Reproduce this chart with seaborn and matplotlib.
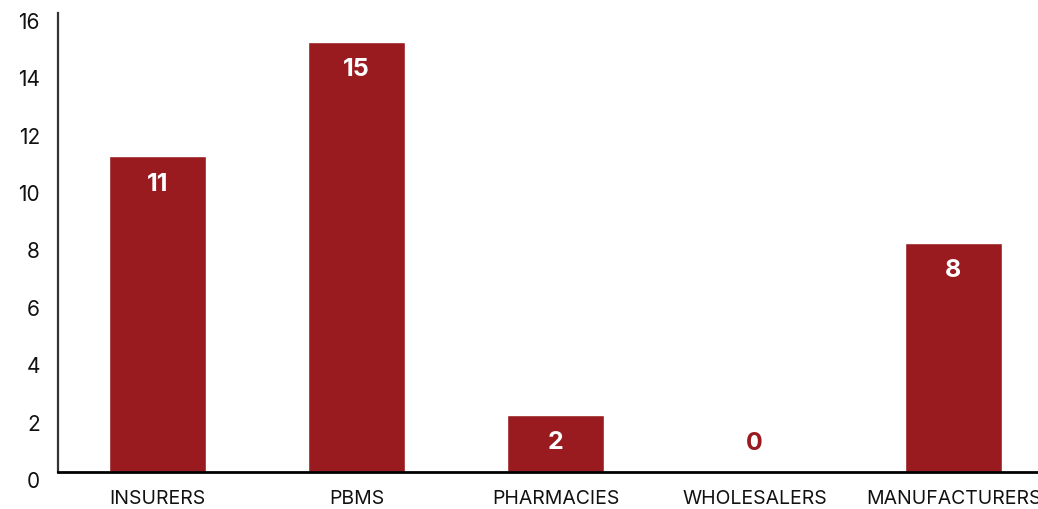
import matplotlib
matplotlib.use("Agg")
import matplotlib.pyplot as plt
import matplotlib.transforms as mtransforms
import seaborn as sns
import pandas as pd

categories = ["INSURERS", "PBMS", "PHARMACIES", "WHOLESALERS", "MANUFACTURERS"]
counts = [11, 15, 2, 0, 8]
y_ticks = [0, 2, 4, 6, 8, 10, 12, 14, 16]

BAR_COLOR = "#991b1f"

sns.set_theme(style="white")
plt.rcParams["font.family"] = ["Inter", "DejaVu Sans"]

df = pd.DataFrame({"group": categories, "count": counts})

fig = plt.figure(figsize=(10.38, 5.09), dpi=100)
W, H = 1038, 509
# axes extends slightly past the right edge of the canvas
ax = fig.add_axes([58 / W, (H - 472) / H, 995 / W, (472 - 13) / H])

sns.barplot(data=df, x="group", y="count", color=BAR_COLOR, width=0.49,
            saturation=1, ax=ax)

ax.set_xlim(-0.5, 4.5)
ax.set_ylim(0, 16)
ax.set_yticks(y_ticks)
ax.set_yticklabels([str(t) for t in y_ticks], fontsize=15, color="#111111")
ax.set_xlabel("")
ax.set_ylabel("")
ax.tick_params(axis="both", length=0)
ax.tick_params(axis="y", pad=13)
ax.tick_params(axis="x", pad=13)
for lbl in ax.get_xticklabels():
    lbl.set_fontsize(14)
    lbl.set_color("#111111")

# nudge y tick labels slightly downward
shift = mtransforms.ScaledTranslation(0, -8 / 100, fig.dpi_scale_trans)
for lbl in ax.get_yticklabels():
    lbl.set_transform(lbl.get_transform() + shift)

for side in ["top", "right"]:
    ax.spines[side].set_visible(False)
ax.spines["left"].set_color("#333333")
ax.spines["left"].set_linewidth(1.6)
ax.spines["bottom"].set_color("#000000")
ax.spines["bottom"].set_linewidth(2)

for i, v in enumerate(counts):
    if v > 0:
        ax.annotate(str(v), xy=(i, v), xytext=(0, -28 * 0.72),
                    textcoords="offset points", ha="center", va="center",
                    fontsize=18, fontweight="bold", color="white")
    else:
        ax.annotate(str(v), xy=(i, v), xytext=(0, 28 * 0.72),
                    textcoords="offset points", ha="center", va="center",
                    fontsize=18, fontweight="bold", color=BAR_COLOR)

fig.savefig("out.png", dpi=100)
